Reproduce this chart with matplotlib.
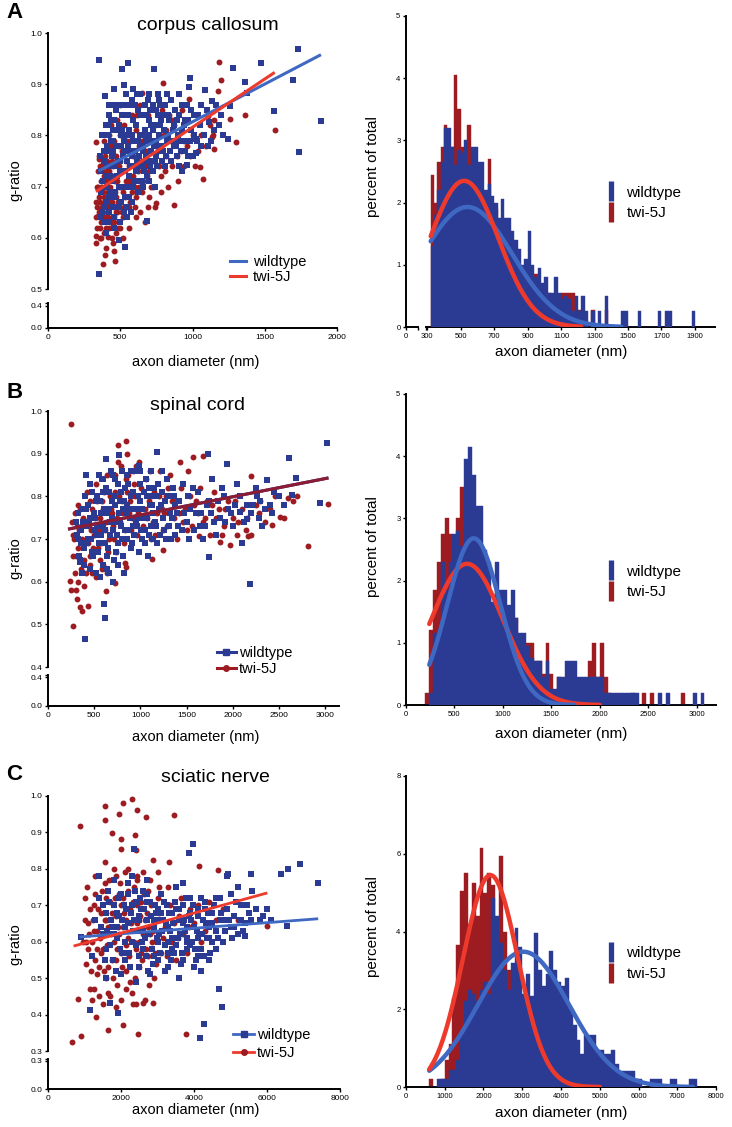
import matplotlib.pyplot as plt
import numpy as np
from matplotlib.lines import Line2D

plt.rcParams['font.family'] = ['Liberation Sans', 'DejaVu Sans']

W, H = 732, 1127
BLUE = '#2b3a93'
RED = '#9c1c22'
LINE_BLUE = '#3f68c2'
LINE_RED = '#ee3a2c'
MAROON = '#8c1c34'

# ---------------- scatter data: (axon diameter nm, g-ratio) ----------------
cc_wt = [
    (355, 0.948), (556, 0.941), (510, 0.93), (737, 0.93), (527, 0.899), (460, 0.89), (392, 0.876),
    (980, 0.912), (1282, 0.932), (1472, 0.941), (1729, 0.969), (1694, 0.909), (1566, 0.847),
    (1889, 0.829), (1740, 0.768), (1362, 0.904), (1380, 0.883), (1259, 0.858), (1243, 0.793),
    (1133, 0.867), (1115, 0.827), (1026, 0.792), (1026, 0.766), (962, 0.743), (687, 0.632),
    (492, 0.596), (534, 0.582), (350, 0.53), (978, 0.895), (904, 0.881), (1088, 0.889),
    (767, 0.87), (824, 0.88), (365, 0.73), (370, 0.69), (362, 0.76), (368, 0.64), (372, 0.80),
    (380, 0.80), (390, 0.77), (400, 0.74), (410, 0.70), (420, 0.68), (430, 0.72), (440, 0.76),
    (450, 0.79), (460, 0.83), (470, 0.85), (480, 0.81), (490, 0.78), (500, 0.75), (510, 0.73),
    (520, 0.70), (530, 0.68), (540, 0.66), (550, 0.64), (560, 0.72), (570, 0.77), (580, 0.80),
    (590, 0.83), (600, 0.86), (610, 0.82), (620, 0.79), (630, 0.76), (640, 0.74), (650, 0.71),
    (660, 0.78), (670, 0.81), (680, 0.84), (690, 0.87), (700, 0.80), (710, 0.77), (720, 0.75),
    (730, 0.73), (740, 0.82), (750, 0.79), (760, 0.84), (780, 0.78), (800, 0.81), (820, 0.76),
    (840, 0.83), (860, 0.79), (880, 0.85), (900, 0.80), (920, 0.77), (940, 0.82), (960, 0.86),
    (980, 0.79), (1000, 0.76), (1050, 0.82), (1100, 0.85), (1150, 0.81), (1200, 0.84),
    (375, 0.65), (385, 0.63), (395, 0.66), (405, 0.78), (415, 0.82), (425, 0.84), (435, 0.79),
    (445, 0.66), (455, 0.64), (465, 0.69), (475, 0.72), (485, 0.66), (495, 0.63), (505, 0.80),
    (515, 0.84), (525, 0.86), (535, 0.77), (545, 0.80), (555, 0.84), (565, 0.86), (575, 0.65),
    (585, 0.70), (595, 0.74), (605, 0.77), (615, 0.88), (625, 0.85), (635, 0.80), (645, 0.84),
    (655, 0.77), (665, 0.73), (675, 0.76), (685, 0.72), (695, 0.79), (705, 0.85), (715, 0.82),
    (725, 0.86), (735, 0.78), (745, 0.76), (755, 0.74), (765, 0.80), (775, 0.86), (785, 0.83),
    (795, 0.77), (810, 0.74), (830, 0.80), (850, 0.87), (870, 0.82), (890, 0.76), (910, 0.84),
    (930, 0.73), (950, 0.79), (970, 0.83), (990, 0.85),
    (382, 0.71), (388, 0.75), (398, 0.82), (403, 0.67), (408, 0.72), (413, 0.77), (418, 0.80),
    (423, 0.65), (428, 0.69), (433, 0.74), (438, 0.83), (443, 0.71), (448, 0.77), (453, 0.81),
    (458, 0.68), (463, 0.74), (468, 0.78), (473, 0.66), (478, 0.86), (483, 0.75), (488, 0.70),
    (493, 0.82), (498, 0.73), (503, 0.67), (508, 0.78), (513, 0.81), (518, 0.76), (523, 0.65),
    (528, 0.79), (533, 0.73), (538, 0.84), (543, 0.70), (548, 0.75), (553, 0.78), (558, 0.68),
    (563, 0.81), (568, 0.74), (573, 0.70), (578, 0.76), (583, 0.87), (588, 0.79), (598, 0.71),
    (608, 0.73), (618, 0.75), (628, 0.71), (638, 0.78), (648, 0.80), (658, 0.74), (668, 0.86),
    (678, 0.79), (688, 0.75), (698, 0.83), (708, 0.74), (718, 0.79), (728, 0.81), (738, 0.75),
    (748, 0.85), (758, 0.78), (772, 0.82), (788, 0.75), (805, 0.84), (825, 0.79), (845, 0.77),
    (865, 0.81), (885, 0.78), (905, 0.74), (925, 0.81), (945, 0.77), (1010, 0.80), (1060, 0.78),
    (1130, 0.79), (1180, 0.82),
    (810, 0.86), (830, 0.84), (850, 0.75), (870, 0.78), (890, 0.83), (910, 0.79), (930, 0.86),
    (950, 0.83), (970, 0.76), (990, 0.81), (1010, 0.84), (1030, 0.79), (1060, 0.86), (1080, 0.80),
    (1110, 0.78), (1160, 0.86), (1210, 0.80), (1040, 0.84), (760, 0.88), (700, 0.88), (640, 0.88),
    (585, 0.89), (540, 0.88), (500, 0.86), (460, 0.86), (420, 0.86), (620, 0.69), (580, 0.67),
    (660, 0.70), (700, 0.71), (740, 0.70), (460, 0.62), (420, 0.63), (400, 0.61),
]
cc_mut = [
    (1184, 0.943), (1198, 0.908), (797, 0.902), (653, 0.883), (1179, 0.886), (1362, 0.839),
    (1569, 0.81), (1301, 0.787), (1151, 0.774), (1053, 0.738), (1076, 0.714), (875, 0.664),
    (749, 0.667), (673, 0.631), (458, 0.574), (465, 0.554), (396, 0.567), (378, 0.549),
    (332, 0.603), (332, 0.59), (412, 0.602), (343, 0.642), (332, 0.788), (350, 0.753),
    (1133, 0.797), (1140, 0.80), (1106, 0.837), (1259, 0.833), (973, 0.872),
    (330, 0.64), (335, 0.67), (340, 0.70), (345, 0.73), (350, 0.76), (355, 0.68), (360, 0.62),
    (365, 0.71), (370, 0.74), (375, 0.66), (380, 0.69), (385, 0.79), (390, 0.72), (395, 0.64),
    (400, 0.68), (405, 0.75), (410, 0.71), (415, 0.66), (420, 0.78), (425, 0.73), (430, 0.70),
    (435, 0.82), (440, 0.67), (445, 0.75), (450, 0.72), (455, 0.64), (460, 0.79), (465, 0.69),
    (470, 0.76), (475, 0.83), (480, 0.71), (485, 0.67), (490, 0.74), (495, 0.80), (500, 0.86),
    (505, 0.70), (510, 0.77), (515, 0.65), (520, 0.73), (525, 0.82), (530, 0.68), (540, 0.75),
    (550, 0.79), (560, 0.71), (570, 0.67), (580, 0.84), (590, 0.76), (600, 0.70), (610, 0.81),
    (620, 0.73), (630, 0.78), (640, 0.86), (650, 0.75), (660, 0.71), (670, 0.80), (680, 0.77),
    (690, 0.84), (700, 0.73), (710, 0.70), (720, 0.79), (730, 0.75), (740, 0.82), (760, 0.77),
    (780, 0.72), (800, 0.80), (820, 0.76), (840, 0.84), (860, 0.74), (880, 0.79), (900, 0.71),
    (920, 0.77), (940, 0.74), (960, 0.83), (1000, 0.80), (1040, 0.77), (1120, 0.82), (1150, 0.83),
    (360, 0.60), (370, 0.63), (385, 0.61), (400, 0.58), (420, 0.62), (440, 0.60), (460, 0.63),
    (480, 0.65), (520, 0.64), (560, 0.66), (600, 0.66), (450, 0.59), (470, 0.61),
    (338, 0.62), (342, 0.66), (348, 0.70), (352, 0.65), (358, 0.74), (363, 0.67), (368, 0.60),
    (373, 0.70), (378, 0.73), (383, 0.65), (388, 0.68), (393, 0.76), (398, 0.70), (403, 0.62),
    (408, 0.73), (413, 0.69), (418, 0.64), (423, 0.80), (428, 0.67), (433, 0.72), (438, 0.63),
    (443, 0.78), (448, 0.69), (453, 0.74), (458, 0.66), (463, 0.71), (468, 0.65), (473, 0.68),
    (478, 0.75), (483, 0.62), (488, 0.78), (493, 0.70), (498, 0.66), (508, 0.73), (518, 0.69),
    (528, 0.77), (538, 0.71), (548, 0.66), (558, 0.74), (568, 0.79), (578, 0.69), (588, 0.72),
    (598, 0.77), (608, 0.68), (618, 0.84), (628, 0.70), (648, 0.79), (668, 0.74), (688, 0.72),
    (708, 0.77), (728, 0.70), (748, 0.78), (770, 0.74), (790, 0.85), (810, 0.73), (830, 0.70),
    (850, 0.79), (870, 0.82), (890, 0.76),
    (820, 0.81), (860, 0.83), (900, 0.80), (940, 0.79), (980, 0.76), (1020, 0.74), (1060, 0.80),
    (1090, 0.78), (930, 0.85), (960, 0.78), (700, 0.68), (740, 0.66), (780, 0.69), (650, 0.69),
    (610, 0.64), (640, 0.65), (690, 0.66), (560, 0.62), (520, 0.60), (500, 0.62),
]

sc_wt = [
    (3018, 0.926), (2613, 0.889), (2686, 0.842), (2946, 0.785), (2640, 0.803), (2187, 0.594),
    (1746, 0.657), (1941, 0.875), (1728, 0.90), (1175, 0.905), (766, 0.897), (633, 0.887),
    (401, 0.466), (614, 0.516), (604, 0.547), (343, 0.646), (416, 0.85), (2367, 0.838),
    (2258, 0.801), (2078, 0.764), (2150, 0.746),
    (300, 0.74), (320, 0.70), (340, 0.66), (360, 0.72), (380, 0.77), (400, 0.80), (420, 0.69),
    (440, 0.74), (460, 0.63), (480, 0.81), (500, 0.76), (520, 0.71), (540, 0.67), (560, 0.79),
    (580, 0.84), (600, 0.73), (620, 0.69), (640, 0.76), (660, 0.81), (680, 0.86), (700, 0.72),
    (720, 0.78), (740, 0.67), (760, 0.83), (780, 0.74), (800, 0.70), (820, 0.79), (840, 0.76),
    (860, 0.85), (880, 0.72), (900, 0.68), (920, 0.81), (940, 0.77), (960, 0.73), (980, 0.87),
    (1000, 0.79), (1020, 0.70), (1040, 0.75), (1060, 0.84), (1080, 0.66), (1100, 0.78),
    (1120, 0.73), (1150, 0.82), (1180, 0.69), (1200, 0.77), (1230, 0.86), (1260, 0.72),
    (1300, 0.80), (1340, 0.75), (1380, 0.71), (1420, 0.79), (1460, 0.83), (1500, 0.74),
    (1540, 0.77), (1580, 0.72), (1620, 0.81), (1660, 0.76), (1700, 0.73), (1740, 0.79),
    (1780, 0.84), (1820, 0.71), (1860, 0.75), (1900, 0.80), (1950, 0.77), (2000, 0.73),
    (2050, 0.83), (2100, 0.69), (2150, 0.78), (2200, 0.76), (2250, 0.82), (2300, 0.79),
    (2350, 0.77), (2450, 0.81), (2550, 0.78),
    (350, 0.65), (370, 0.62), (390, 0.68), (410, 0.73), (430, 0.78), (450, 0.83), (470, 0.70),
    (490, 0.66), (510, 0.75), (530, 0.80), (550, 0.85), (570, 0.71), (590, 0.64), (610, 0.77),
    (630, 0.82), (650, 0.68), (670, 0.74), (690, 0.79), (710, 0.65), (730, 0.84), (750, 0.71),
    (770, 0.76), (790, 0.81), (810, 0.66), (830, 0.72), (850, 0.78), (870, 0.83), (890, 0.75),
    (910, 0.69), (930, 0.86), (950, 0.74), (970, 0.80), (990, 0.67), (1010, 0.72), (1070, 0.80),
    (1110, 0.86), (1140, 0.76), (1170, 0.80), (1210, 0.71), (1250, 0.75), (1290, 0.84),
    (1330, 0.70), (1370, 0.78),
    (310, 0.71), (330, 0.76), (355, 0.69), (375, 0.74), (395, 0.64), (415, 0.77), (435, 0.70),
    (455, 0.75), (475, 0.67), (495, 0.72), (515, 0.79), (535, 0.73), (555, 0.69), (575, 0.76),
    (595, 0.81), (615, 0.72), (635, 0.66), (655, 0.77), (675, 0.71), (695, 0.75), (715, 0.80),
    (735, 0.74), (755, 0.69), (775, 0.79), (795, 0.73), (815, 0.77), (835, 0.82), (855, 0.70),
    (875, 0.77), (895, 0.80), (915, 0.73), (935, 0.71), (955, 0.77), (975, 0.75), (995, 0.83),
    (1015, 0.77), (1035, 0.81), (1055, 0.72), (1075, 0.75), (1095, 0.71), (1115, 0.80),
    (1135, 0.70), (1160, 0.74), (1190, 0.83), (1220, 0.78), (1270, 0.79), (1310, 0.73),
    (1350, 0.82), (1400, 0.76), (1450, 0.72), (1520, 0.80), (1600, 0.76), (1680, 0.70),
    (1760, 0.76), (1840, 0.79), (1920, 0.74), (2020, 0.78), (2120, 0.74), (2220, 0.78),
    (2320, 0.73), (2420, 0.76), (2500, 0.80), (520, 0.62), (560, 0.61), (660, 0.62),
    (700, 0.60), (640, 0.63), (760, 0.64), (820, 0.62),
    (1050, 0.69), (1090, 0.82), (1130, 0.78), (1170, 0.73), (1230, 0.81), (1280, 0.70),
    (1320, 0.76), (1360, 0.80), (1410, 0.73), (1470, 0.76), (1530, 0.70), (1570, 0.82),
    (1640, 0.73), (1720, 0.78), (1800, 0.74), (1880, 0.82), (1980, 0.76), (2080, 0.80),
    (2280, 0.75), (2400, 0.78), (600, 0.84), (700, 0.85), (800, 0.86), (900, 0.86), (1000, 0.86),
]
sc_mut = [
    (246, 0.969), (271, 0.495), (235, 0.601), (372, 0.531), (434, 0.542), (633, 0.578),
    (730, 0.596), (759, 0.92), (842, 0.93), (1427, 0.881), (1565, 0.893), (1673, 0.894),
    (2193, 0.847), (2457, 0.80), (2512, 0.752), (2421, 0.732), (2819, 0.684), (3036, 0.782),
    (2602, 0.795), (2168, 0.707), (1970, 0.685), (1861, 0.693), (1637, 0.707), (849, 0.635),
    (831, 0.644), (1127, 0.654), (1240, 0.674),
    (260, 0.74), (280, 0.70), (300, 0.66), (320, 0.78), (340, 0.72), (360, 0.63), (380, 0.75),
    (400, 0.69), (420, 0.81), (440, 0.73), (460, 0.66), (480, 0.77), (500, 0.71), (520, 0.83),
    (540, 0.68), (560, 0.75), (580, 0.79), (600, 0.64), (620, 0.72), (640, 0.85), (660, 0.70),
    (680, 0.77), (700, 0.73), (720, 0.81), (740, 0.67), (760, 0.88), (780, 0.74), (800, 0.79),
    (820, 0.69), (840, 0.84), (860, 0.90), (880, 0.76), (900, 0.72), (920, 0.86), (940, 0.80),
    (960, 0.71), (980, 0.88), (1000, 0.77), (1030, 0.73), (1060, 0.84), (1090, 0.79),
    (1120, 0.70), (1150, 0.81), (1180, 0.76), (1210, 0.86), (1240, 0.72), (1280, 0.80),
    (1320, 0.85), (1360, 0.75), (1400, 0.70), (1440, 0.82), (1480, 0.77), (1520, 0.86),
    (1560, 0.73), (1600, 0.79), (1650, 0.82), (1700, 0.75), (1750, 0.71), (1800, 0.81),
    (1850, 0.77), (1900, 0.73), (1950, 0.79), (2000, 0.75), (2050, 0.71), (2100, 0.77),
    (2200, 0.71), (2300, 0.79), (2400, 0.77), (2550, 0.75), (2700, 0.80), (2650, 0.79),
    (250, 0.58), (290, 0.62), (310, 0.56), (330, 0.60), (350, 0.54), (390, 0.59), (410, 0.62),
    (450, 0.64), (520, 0.61), (580, 0.63), (300, 0.58), (270, 0.66),
    (270, 0.71), (290, 0.76), (310, 0.73), (330, 0.68), (350, 0.77), (370, 0.70), (390, 0.65),
    (410, 0.74), (430, 0.69), (450, 0.79), (470, 0.72), (490, 0.68), (510, 0.75), (530, 0.79),
    (550, 0.72), (570, 0.69), (590, 0.77), (610, 0.81), (630, 0.74), (650, 0.67), (670, 0.80),
    (690, 0.76), (710, 0.70), (730, 0.85), (750, 0.75), (770, 0.80), (790, 0.87), (810, 0.76),
    (830, 0.72), (850, 0.81), (870, 0.85), (890, 0.79), (910, 0.75), (930, 0.83), (950, 0.87),
    (970, 0.76), (1010, 0.82), (1050, 0.77), (1100, 0.86), (1140, 0.74), (1200, 0.80),
    (1260, 0.76), (1300, 0.82), (1380, 0.79), (1460, 0.74), (1540, 0.80), (1620, 0.76),
    (1720, 0.79), (1820, 0.75), (1920, 0.77), (2020, 0.79), (2150, 0.75), (2250, 0.78),
    (2350, 0.74),
    (1070, 0.75), (1110, 0.80), (1160, 0.71), (1230, 0.77), (1290, 0.73), (1340, 0.79),
    (1420, 0.76), (1500, 0.72), (1580, 0.78), (1680, 0.74), (1780, 0.78), (1880, 0.71),
    (2060, 0.74), (2140, 0.72), (2280, 0.76), (480, 0.62), (560, 0.65), (640, 0.62),
]

sn_wt = [
    (2367, 0.855), (3979, 0.867), (3851, 0.844), (6902, 0.812), (6565, 0.80), (6374, 0.785),
    (7402, 0.761), (6556, 0.644), (5399, 0.616), (5554, 0.785), (4944, 0.785), (4689, 0.47),
    (4780, 0.421), (4279, 0.374), (4170, 0.337), (1912, 0.403), (1703, 0.432), (1156, 0.412),
    (911, 0.613),
    (1200, 0.56), (1300, 0.66), (1400, 0.72), (1500, 0.62), (1550, 0.55), (1600, 0.68),
    (1650, 0.74), (1700, 0.59), (1750, 0.64), (1800, 0.70), (1850, 0.52), (1900, 0.61),
    (1950, 0.67), (2000, 0.73), (2050, 0.57), (2100, 0.64), (2150, 0.69), (2200, 0.76),
    (2250, 0.53), (2300, 0.60), (2350, 0.66), (2400, 0.71), (2450, 0.63), (2500, 0.56),
    (2550, 0.69), (2600, 0.74), (2650, 0.61), (2700, 0.66), (2750, 0.52), (2800, 0.71),
    (2850, 0.58), (2900, 0.64), (2950, 0.68), (3000, 0.55), (3050, 0.62), (3100, 0.73),
    (3150, 0.66), (3200, 0.59), (3250, 0.70), (3300, 0.53), (3350, 0.63), (3400, 0.68),
    (3450, 0.57), (3500, 0.75), (3550, 0.61), (3600, 0.66), (3650, 0.54), (3700, 0.70),
    (3750, 0.63), (3800, 0.58), (3850, 0.67), (3900, 0.72), (3950, 0.60), (4000, 0.64),
    (4050, 0.55), (4100, 0.69), (4150, 0.62), (4200, 0.58), (4250, 0.66), (4300, 0.71),
    (4350, 0.61), (4400, 0.64), (4450, 0.57), (4500, 0.68), (4600, 0.63), (4700, 0.66),
    (4800, 0.60), (4900, 0.69), (5000, 0.64), (5100, 0.67), (5200, 0.62), (5300, 0.70),
    (5400, 0.65), (5500, 0.68), (5600, 0.74), (5800, 0.66), (6000, 0.69),
    (1600, 0.50), (2000, 0.51), (2400, 0.49), (2800, 0.51), (3200, 0.52), (3600, 0.50),
    (4000, 0.53), (4200, 0.52), (2200, 0.65), (2600, 0.63), (3000, 0.66), (3400, 0.61),
    (3800, 0.64), (1800, 0.77), (2300, 0.78), (2700, 0.77), (1400, 0.78), (3700, 0.76),
    (4700, 0.72), (5000, 0.73), (5200, 0.75), (4900, 0.78),
    (1450, 0.64), (1520, 0.70), (1580, 0.58), (1620, 0.63), (1680, 0.71), (1720, 0.66),
    (1780, 0.55), (1820, 0.62), (1880, 0.68), (1920, 0.72), (1980, 0.58), (2020, 0.66),
    (2080, 0.70), (2120, 0.60), (2180, 0.73), (2220, 0.57), (2280, 0.68), (2320, 0.63),
    (2380, 0.74), (2420, 0.59), (2480, 0.67), (2520, 0.72), (2580, 0.60), (2620, 0.69),
    (2680, 0.56), (2720, 0.73), (2780, 0.62), (2820, 0.67), (2880, 0.54), (2920, 0.70),
    (2980, 0.61), (3020, 0.69), (3080, 0.57), (3120, 0.63), (3180, 0.71), (3220, 0.65),
    (3280, 0.60), (3320, 0.68), (3380, 0.55), (3420, 0.65), (3480, 0.71), (3520, 0.59),
    (3580, 0.69), (3620, 0.62), (3680, 0.57), (3720, 0.66), (3780, 0.72), (3820, 0.61),
    (3880, 0.59), (3920, 0.66), (3980, 0.70), (4020, 0.58), (4080, 0.63), (4120, 0.67),
    (4180, 0.72), (4220, 0.62), (4280, 0.56), (4320, 0.65), (4380, 0.68), (4420, 0.61),
    (4480, 0.65), (4550, 0.70), (4650, 0.61), (4750, 0.68), (4850, 0.63), (4950, 0.66),
    (5050, 0.61), (5150, 0.71), (5250, 0.66), (5350, 0.63), (5450, 0.70), (5550, 0.66),
    (5700, 0.69), (5900, 0.67), (6100, 0.66),
    (2100, 0.55), (2500, 0.53), (2900, 0.56), (3300, 0.57), (3700, 0.55), (4100, 0.56),
    (4500, 0.60), (4600, 0.58), (4400, 0.55), (2300, 0.70), (2700, 0.71), (3100, 0.68),
    (3500, 0.69), (3900, 0.68), (4300, 0.69), (4600, 0.72), (4800, 0.66), (5100, 0.64),
    (5300, 0.66), (1700, 0.62), (1900, 0.64), (2500, 0.66), (2900, 0.66), (3300, 0.64),
    (3700, 0.65), (4100, 0.61), (2600, 0.58), (3000, 0.60), (3400, 0.58), (3800, 0.60),
]
sn_mut = [
    (865, 0.917), (1548, 0.973), (1548, 0.935), (1958, 0.95), (2049, 0.981), (2304, 0.991),
    (2431, 0.961), (2686, 0.941), (3460, 0.948), (1757, 0.899), (2003, 0.881), (2395, 0.892),
    (2003, 0.854), (2413, 0.853), (1548, 0.819), (2886, 0.824), (3323, 0.819), (4143, 0.807),
    (4671, 0.798), (665, 0.325), (911, 0.342), (820, 0.444), (1302, 0.392), (1639, 0.357),
    (2067, 0.371), (2477, 0.348), (3779, 0.348), (1867, 0.42), (2322, 0.429), (2595, 0.432),
    (2886, 0.433), (6009, 0.643),
    (1000, 0.72), (1050, 0.54), (1100, 0.65), (1150, 0.47), (1200, 0.60), (1250, 0.70),
    (1300, 0.55), (1350, 0.63), (1400, 0.45), (1450, 0.68), (1500, 0.58), (1550, 0.76),
    (1600, 0.50), (1650, 0.64), (1700, 0.71), (1750, 0.55), (1800, 0.60), (1850, 0.67),
    (1900, 0.48), (1950, 0.73), (2000, 0.57), (2050, 0.64), (2100, 0.79), (2150, 0.52),
    (2200, 0.61), (2250, 0.69), (2300, 0.46), (2350, 0.75), (2400, 0.58), (2450, 0.65),
    (2500, 0.53), (2550, 0.71), (2600, 0.62), (2650, 0.44), (2700, 0.68), (2750, 0.56),
    (2800, 0.77), (2850, 0.60), (2900, 0.50), (2950, 0.66), (3000, 0.72), (3100, 0.57),
    (3200, 0.64), (3300, 0.75), (3400, 0.60), (3500, 0.55), (3600, 0.67), (3700, 0.62),
    (3800, 0.57), (3900, 0.69), (4000, 0.65), (4200, 0.60), (4400, 0.71), (4600, 0.66),
    (1200, 0.44), (1500, 0.43), (1700, 0.45), (2000, 0.44), (2400, 0.43), (1300, 0.78),
    (1800, 0.80), (2200, 0.80), (2600, 0.79), (3000, 0.79), (1600, 0.72), (2000, 0.70),
    (2800, 0.62), (1100, 0.58), (1400, 0.53),
    (950, 0.60), (1020, 0.66), (1080, 0.75), (1130, 0.62), (1180, 0.52), (1230, 0.66),
    (1280, 0.73), (1330, 0.58), (1380, 0.69), (1430, 0.61), (1480, 0.74), (1530, 0.52),
    (1580, 0.66), (1630, 0.59), (1680, 0.77), (1730, 0.62), (1780, 0.50), (1830, 0.72),
    (1880, 0.58), (1930, 0.64), (1980, 0.76), (2030, 0.53), (2080, 0.68), (2130, 0.59),
    (2180, 0.74), (2230, 0.56), (2280, 0.65), (2330, 0.71), (2380, 0.50), (2430, 0.77),
    (2480, 0.60), (2530, 0.67), (2580, 0.55), (2630, 0.73), (2680, 0.58), (2730, 0.64),
    (2780, 0.48), (2830, 0.70), (2880, 0.63), (2930, 0.57), (3050, 0.68), (3150, 0.61),
    (3250, 0.56), (3350, 0.70), (3450, 0.65), (3550, 0.61), (3650, 0.72), (3850, 0.64),
    (4100, 0.70), (4300, 0.63), (4800, 0.69), (5200, 0.66),
    (1050, 0.60), (1150, 0.69), (1250, 0.63), (1350, 0.51), (1450, 0.57), (1550, 0.66),
    (1650, 0.53), (1750, 0.68), (1850, 0.55), (1950, 0.62), (2050, 0.72), (2150, 0.66),
    (2250, 0.49), (2350, 0.60), (2450, 0.70), (2550, 0.57), (2650, 0.66), (2750, 0.74),
    (2950, 0.54), (3050, 0.75), (1250, 0.47), (1650, 0.46), (2150, 0.47), (1850, 0.78),
    (2450, 0.78),
]

# linear fits: (slope, intercept, x_from, x_to)
cc_fit_wt = (1.475e-4, 0.679, 350, 1889)
cc_fit_mut = (1.884e-4, 0.6275, 332, 1569)
sc_fit_wt = (4.26e-5, 0.7138, 217, 3036)
sc_fit_mut = (4.26e-5, 0.7138, 217, 3036)
sn_fit_wt = (7.65e-6, 0.6064, 865, 7402)
sn_fit_mut = (2.75e-5, 0.5687, 701, 6009)

# ---------------- histogram data (percent of total per bin) ----------------
cc_bin_start, cc_bin_w = 320, 20
cc_hist_wt = [
    1.30, 1.80, 2.20, 2.65, 3.20, 3.20, 2.90, 2.60, 2.85, 2.80,
    3.00, 2.60, 2.90, 2.90, 2.65, 2.65, 2.20, 2.30, 2.10, 2.00,
    1.75, 2.05, 1.75, 1.75, 1.55, 1.40, 1.25, 1.00, 1.10, 1.55,
    1.00, 0.80, 0.95, 0.70, 0.80, 0.55, 0.55, 0.80, 0.55, 0.45,
    0.50, 0.45, 0.26, 0.50, 0.26, 0.50, 0.26, 0, 0.26, 0,
    0.26, 0, 0.50, 0, 0, 0, 0, 0.26, 0.26, 0,
    0, 0, 0.26, 0, 0, 0, 0, 0, 0.26, 0,
    0.26, 0.26, 0, 0, 0, 0, 0, 0, 0.26,
]
cc_hist_mut = [
    2.45, 2.00, 2.65, 2.90, 3.25, 2.20, 2.90, 4.05, 3.50, 2.90,
    2.90, 3.25, 2.60, 2.40, 2.20, 1.90, 1.80, 2.70, 2.00, 1.90,
    1.50, 1.60, 1.30, 1.20, 1.00, 0.90, 0.80, 0.70, 0.75, 0.55,
    0.55, 0.85, 0.55, 0.27, 0.27, 0.55, 0.27, 0.27, 0.27, 0.55,
    0.55, 0.55, 0.55, 0.27, 0.27, 0, 0, 0, 0.27, 0,
    0, 0, 0.27,
]
sc_bin_start, sc_bin_w = 200, 40
sc_hist_wt = [
    0, 0.20, 1.15, 1.15, 2.30, 1.85, 2.30, 2.75, 2.80, 2.55,
    3.95, 4.15, 3.70, 3.20, 3.20, 2.50, 2.30, 1.65, 2.30, 1.85,
    1.85, 1.60, 1.85, 1.40, 1.15, 1.15, 0.95, 0.75, 0.70, 0.70,
    0.45, 0.70, 0.25, 0.25, 0.45, 0.45, 0.70, 0.70, 0.70, 0.45,
    0.45, 0.45, 0.45, 0.45, 0.45, 0.45, 0.20, 0.20, 0.20, 0.20,
    0.20, 0.20, 0.20, 0.20, 0.20, 0, 0, 0, 0, 0,
    0.20, 0, 0.20, 0, 0, 0, 0, 0, 0, 0.20,
    0, 0.20,
]
sc_hist_mut = [
    0.20, 1.20, 1.85, 2.30, 2.75, 3.00, 2.75, 2.30, 3.00, 3.50,
    2.40, 2.60, 2.20, 2.00, 2.20, 1.90, 1.70, 1.40, 1.80, 1.40,
    1.20, 1.30, 1.00, 1.40, 0.75, 0.70, 1.00, 1.00, 0.70, 0.70,
    0.50, 1.00, 0.50, 0.20, 0.45, 0.20, 0.45, 0.20, 0.20, 0.20,
    0.20, 0.20, 0.70, 1.00, 0.45, 1.00, 0.45, 0.20, 0, 0,
    0, 0, 0, 0.20, 0, 0, 0.20, 0, 0.20, 0,
    0, 0, 0, 0, 0, 0, 0.20,
]
sn_bin_start, sn_bin_w = 600, 100
sn_hist_wt = [
    0, 0, 0.20, 0.20, 0.20, 0.45, 0.45, 0.70, 1.40, 2.20,
    2.50, 2.40, 2.20, 2.50, 2.70, 2.40, 4.85, 4.40, 3.70, 3.00,
    2.50, 3.20, 4.10, 3.60, 2.40, 2.90, 2.35, 3.95, 3.00, 2.60,
    2.90, 3.50, 3.00, 2.70, 2.60, 2.80, 2.00, 1.60, 1.20, 0.85,
    1.35, 1.35, 1.35, 0.95, 0.95, 0.85, 0.85, 0.95, 0.60, 0.40,
    0.40, 0.40, 0.40, 0.20, 0.20, 0, 0, 0.20, 0.20, 0.20,
    0, 0, 0.20, 0.20, 0, 0, 0, 0.20, 0.20,
]
sn_hist_mut = [
    0.20, 0, 0, 0.20, 0.70, 1.10, 2.30, 3.65, 5.05, 5.50,
    4.20, 5.25, 4.40, 6.15, 5.00, 5.50, 5.20, 3.80, 5.95, 4.00,
    3.00, 2.60, 2.20, 1.50, 1.20, 1.00, 0.80, 0.60, 0.50, 0.40,
    0.30, 0.20, 0.20, 0.20, 0.20, 0.20, 0, 0.20, 0, 0,
    0, 0, 0, 0, 0, 0, 0, 0, 0, 0,
    0, 0, 0, 0.20,
]

# gaussian fits: (amplitude, mean, sd, x_from, x_to)
cc_gauss_wt = (1.93, 540, 268, 320, 1460)
cc_gauss_mut = (2.35, 520, 205, 320, 1220)
sc_gauss_wt = (2.68, 700, 273, 240, 1740)
sc_gauss_mut = (2.27, 630, 370, 240, 2000)
sn_gauss_wt = (3.48, 3030, 1180, 600, 7400)
sn_gauss_mut = (5.45, 2180, 710, 600, 5000)


def px_box(left, top, right, bottom):
    return [left / W, 1 - bottom / H, (right - left) / W, (bottom - top) / H]


def style(ax, fs=6):
    for s in ['top', 'right']:
        ax.spines[s].set_visible(False)
    for s in ['left', 'bottom']:
        ax.spines[s].set_linewidth(1.4)
    ax.tick_params(direction='out', length=2.5, width=1.0, labelsize=fs, pad=1.5)


def scatter_panel(fig, right, xmax, xticks, top_px, low_px, ytop_lo, ylow_hi, ylow_tick,
                  wt, mut, fit_wt, fit_mut, col_wt, col_mut, fit_lw):
    top = fig.add_axes(px_box(48, top_px[0], right, top_px[1]))
    low = fig.add_axes(px_box(48, low_px[0], right, low_px[1]))
    for ax in (top, low):
        style(ax)
        ax.set_xlim(0, xmax)
    top.spines['bottom'].set_visible(False)
    top.set_xticks([])
    top.set_ylim(ytop_lo, 1.0)
    top.set_yticks(np.round(np.arange(ytop_lo, 1.001, 0.1), 1))
    top.yaxis.set_major_formatter('{x:.1f}')
    low.set_ylim(0, ylow_hi)
    low.set_yticks([0, ylow_tick, ylow_hi])
    low.set_yticklabels(['0.0', f'{ylow_tick:.1f}', ''])
    low.set_xticks(xticks)

    mx, my = np.array(mut).T
    wx, wy = np.array(wt).T
    top.scatter(mx, my, marker='o', s=18, c=RED, linewidths=0, zorder=2)
    top.scatter(wx, wy, marker='s', s=17, c=BLUE, linewidths=0, zorder=3)
    for (k, b, x0, x1), col in ((fit_wt, col_wt), (fit_mut, col_mut)):
        xs = np.array([x0, x1])
        top.plot(xs, k * xs + b, color=col, lw=fit_lw, zorder=4, solid_capstyle='butt')
    return top, low


def hist_draw(ax, start, width, wt_h, mut_h, g_wt, g_mut, red_on_top=True):
    ax.bar(start + width * np.arange(len(mut_h)), mut_h, width=width, align='edge',
           color=RED, edgecolor=RED, linewidth=0.3, zorder=2)
    ax.bar(start + width * np.arange(len(wt_h)), wt_h, width=width, align='edge',
           color=BLUE, edgecolor=BLUE, linewidth=0.3, zorder=3)
    for (amp, mu, sd, x0, x1), col, z in ((g_wt, LINE_BLUE, 4), (g_mut, LINE_RED, 5 if red_on_top else 3.5)):
        xs = np.linspace(x0, x1, 300)
        ax.plot(xs, amp * np.exp(-0.5 * ((xs - mu) / sd) ** 2), color=col, lw=3.2,
                solid_capstyle='round', zorder=z)


def hist_legend(ax, y_center):
    handles = [Line2D([], [], marker='|', ms=15, mew=3.8, color=BLUE, ls='none'),
               Line2D([], [], marker='|', ms=15, mew=3.8, color=RED, ls='none')]
    ax.legend(handles, ['wildtype', 'twi-5J'], loc='center left',
              bbox_to_anchor=(605 / W, 1 - y_center / H), bbox_transform=fig.transFigure,
              frameon=False, fontsize=11, handlelength=0.8, handletextpad=0.6,
              labelspacing=0.45, borderpad=0, borderaxespad=0)


fig = plt.figure(figsize=(W / 100, H / 100), dpi=100)

# ---------------- scatter panels ----------------
topA, lowA = scatter_panel(fig, 337, 2000, [0, 500, 1000, 1500, 2000], (33, 289), (303, 328),
                           0.5, 0.45, 0.4, cc_wt, cc_mut, cc_fit_wt, cc_fit_mut,
                           LINE_BLUE, LINE_RED, 2.2)
topB, lowB = scatter_panel(fig, 339, 3150, [0, 500, 1000, 1500, 2000, 2500, 3000], (411, 667),
                           (675, 706), 0.4, 0.43, 0.4, sc_wt, sc_mut, sc_fit_wt, sc_fit_mut,
                           BLUE, MAROON, 2.2)
topC, lowC = scatter_panel(fig, 340, 8000, [0, 2000, 4000, 6000, 8000], (796, 1051), (1059, 1089),
                           0.3, 0.32, 0.3, sn_wt, sn_mut, sn_fit_wt, sn_fit_mut,
                           LINE_BLUE, LINE_RED, 2.0)

legA = [Line2D([], [], color=LINE_BLUE, lw=2.2), Line2D([], [], color=LINE_RED, lw=2.2)]
topA.legend(legA, ['wildtype', 'twi-5J'], loc='center left', bbox_to_anchor=(230 / W, 1 - 269.5 / H),
            bbox_transform=fig.transFigure, frameon=False, fontsize=10.5, handlelength=1.1,
            handletextpad=0.45, labelspacing=0.1, borderpad=0, borderaxespad=0)
legB = [Line2D([], [], color=BLUE, lw=2.2, marker='s', ms=4),
        Line2D([], [], color=RED, lw=2.2, marker='o', ms=4)]
topB.legend(legB, ['wildtype', 'twi-5J'], loc='center left', bbox_to_anchor=(217 / W, 1 - 661 / H),
            bbox_transform=fig.transFigure, frameon=False, fontsize=10.5, handlelength=1.3,
            handletextpad=0.2, labelspacing=0.15, borderpad=0, borderaxespad=0)
legC = [Line2D([], [], color=LINE_BLUE, lw=2, marker='s', ms=4, mfc=BLUE, mec=BLUE),
        Line2D([], [], color=LINE_RED, lw=2, marker='o', ms=4, mfc=RED, mec=RED)]
topC.legend(legC, ['wildtype', 'twi-5J'], loc='center left', bbox_to_anchor=(233 / W, 1 - 1044 / H),
            bbox_transform=fig.transFigure, frameon=False, fontsize=10.5, handlelength=1.45,
            handletextpad=0.2, labelspacing=0.3, borderpad=0, borderaxespad=0)

# ---------------- histogram A (broken x axis) ----------------
hA0 = fig.add_axes(px_box(406, 16, 418, 327))
hA = fig.add_axes(px_box(426, 16, 715, 327))
style(hA0, 5.5)
style(hA, 5.5)
hA0.set_xlim(0, 1)
hA0.set_xticks([0, 1])
hA0.set_xticklabels(['0', ''])
hA0.set_ylim(0, 5)
hA0.set_yticks(range(6))
hA.spines['left'].set_visible(False)
hA.set_yticks([])
hA.set_ylim(0, 5)
hA.set_xlim(292, 2020)
hA.set_xticks([292] + list(range(300, 2000, 200)))
hA.set_xticklabels([''] + [str(v) for v in range(300, 2000, 200)])
hist_draw(hA, cc_bin_start, cc_bin_w, cc_hist_wt, cc_hist_mut, cc_gauss_wt, cc_gauss_mut)
hist_legend(hA, 203)

# ---------------- histogram B ----------------
hB = fig.add_axes(px_box(406, 394, 716, 705))
style(hB, 5.5)
hB.set_xlim(0, 3200)
hB.set_ylim(0, 5)
hB.set_xticks(range(0, 3001, 500))
hB.set_yticks(range(6))
hist_draw(hB, sc_bin_start, sc_bin_w, sc_hist_wt, sc_hist_mut, sc_gauss_wt, sc_gauss_mut, red_on_top=False)
hist_legend(hB, 582)

# ---------------- histogram C ----------------
hC = fig.add_axes(px_box(406, 776, 716, 1087))
style(hC, 5.5)
hC.set_xlim(0, 8000)
hC.set_ylim(0, 8)
hC.set_xticks(range(0, 8001, 1000))
hC.set_yticks(range(0, 9, 2))
hist_draw(hC, sn_bin_start, sn_bin_w, sn_hist_wt, sn_hist_mut, sn_gauss_wt, sn_gauss_mut)
hist_legend(hC, 963.5)

# ---------------- text ----------------
def ftext(x, y, s, **kw):
    fig.text(x / W, 1 - y / H, s, ha=kw.pop('ha', 'center'), va=kw.pop('va', 'center'), **kw)


for letter, y in (('A', 13), ('B', 392), ('C', 775)):
    ftext(6, y, letter, fontsize=16, fontweight='bold', ha='left')
ftext(208, 25, 'corpus callosum', fontsize=14)
ftext(197, 406, 'spinal cord', fontsize=14)
ftext(215, 777, 'sciatic nerve', fontsize=14)
for y in (180, 558, 944):
    ftext(15, y, 'g-ratio', fontsize=10.5, rotation=90)
for y in (362, 737, 1110):
    ftext(196, y, 'axon diameter (nm)', fontsize=10.5)
for y in (167, 547, 927):
    ftext(373, y, 'percent of total', fontsize=11, rotation=90)
for y in (352, 734, 1113):
    ftext(561, y, 'axon diameter (nm)', fontsize=11)

fig.savefig('out.png', dpi=100, facecolor='white')
